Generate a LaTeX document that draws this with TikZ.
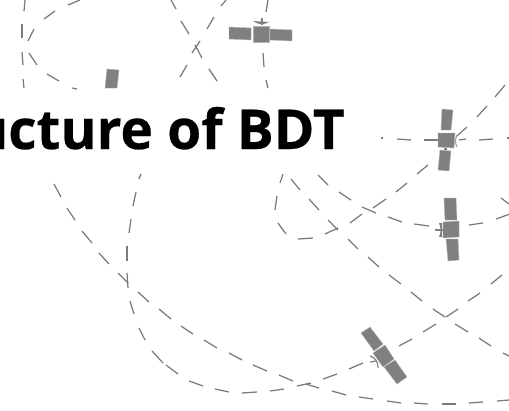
\documentclass[tikz,border=0pt]{standalone}
\usepackage{fontspec}
\setmainfont[BoldFeatures={FakeBold=0.4}]{Open Sans}
\definecolor{satgray}{HTML}{808080}
\definecolor{orbitgray}{HTML}{7A7A7A}
\tikzset{
  orbitdash/.style={draw=orbitgray,line width=1.25pt,line cap=butt},
  satpart/.style={fill=satgray,draw=satgray!60,line width=0.4pt},
  satline/.style={draw=satgray,line width=1.2pt},
  titletext/.style={font=\fontsize{55}{60}\selectfont\bfseries,text=black,inner sep=0pt,anchor=base east}
}
\begin{document}
\begin{tikzpicture}[x=1pt,y=-1pt]
\useasboundingbox (0,0) rectangle (509,410);
\clip (0,0) rectangle (509,410);
% orbit dashes
\foreach \a/\b/\c/\d in {
 80/0/68/5, 55/11/44/19, 34/29/28/41, 29/53/37/65, 47/74/59/81, 72/88/77/89,
 25/0/24/11, 22/24/22/38, 22/52/23/65, 23/79/24/88,
 54/184/61/197, 67/208/75/220, 82/231/92/243, 99/253/109/264, 118/273/128/283, 138/292/149/302,
 159/309/171/319, 181/326/193/334, 204/340/217/348, 229/353/242/360, 253/365/267/371,
 279/375/293/381, 306/384/319/388, 332/391/346/395, 359/397/373/399, 387/401/401/403,
 414/403/428/404, 442/404/456/404, 469/403/483/402, 497/401/509/400,
 141/174/139/179, 136/192/133/206, 131/219/129/233, 127/246/127/261, 127/273/128/288,
 130/301/134/314, 139/328/145/340, 152/351/163/363, 166/365/178/374, 189/381/203/386,
 215/389/229/392, 242/393/257/392, 270/391/284/389, 297/386/311/383, 323/379/337/374,
 349/369/363/363, 399/346/412/339, 423/332/436/324, 446/317/458/309, 468/301/480/293,
 491/284/502/275,
 171/0/176/9, 181/21/189/34, 195/45/202/58, 209/69/217/81,
 226/0/221/6, 214/17/207/29, 200/41/192/53, 187/65/180/77,
 268/0/266/12, 263/53/264/67, 266/80/268/88,
 381/138/383/138, 397/139/411/140, 424/140/438/140, 459/140/466/139, 479/140/493/139, 507/138/509/138,
 505/85/495/97, 487/106/477/117, 467/127/457/136,
 428/165/417/174, 407/183/396/192, 386/199/373/208, 362/214/350/223, 338/228/325/234,
 313/238/298/239, 286/234/278/223, 275/210/277/196, 280/183/283/174,
 291/179/300/190, 309/199/319/210, 328/220/338/230, 348/239/358/249, 368/257/379/267,
 389/275/401/284, 411/292/422/301, 433/309/445/317, 455/324/468/332, 479/338/491/346, 503/353/509/356,
 318/175/328/185, 339/192/351/200, 362/207/376/213, 388/217/402/222, 414/224/429/226,
 469/225/483/223, 496/219/510/214, 501/198/509/204}
 {\draw[orbitdash] (\a,\b) -- (\c,\d);}
% satellite, top
\fill[satpart] (229,27) -- (251,28) -- (251,40) -- (229,39) -- cycle;
\fill[satpart] (253,26) -- (269,26) -- (269,42) -- (253,42) -- cycle;
\fill[satpart] (270,29) -- (292,30) -- (292,41) -- (270,40) -- cycle;
\fill[satgray] (253,21) .. controls (258,25) and (264,25) .. (269,22) -- cycle;
\draw[satline] (262,18) -- (262,25);
% satellite, cut by the title
\fill[satpart] (107,69) -- (119,70) -- (117,88) -- (105,88) -- cycle;
% satellite, right upper
\fill[satpart] (442,109) -- (453,110) -- (451,130) -- (441,130) -- cycle;
\fill[satpart] (438,133) -- (455,133) -- (454,148) -- (438,147) -- cycle;
\fill[satpart] (440,150) -- (451,151) -- (449,171) -- (438,170) -- cycle;
\draw[satline,draw=satgray!70] (457,135) .. controls (455,140) and (455,143) .. (457,147);
\fill[satgray] (444,148) rectangle (447,150);
% satellite, right lower
\fill[satpart] (444,198) -- (456,198) -- (457,220) -- (445,220) -- cycle;
\fill[satpart] (443,222) -- (459,221) -- (459,237) -- (443,238) -- cycle;
\fill[satpart] (446,239) -- (458,239) -- (459,260) -- (448,261) -- cycle;
\fill[satgray] (439,223) .. controls (441,228) and (441,233) .. (439,237) -- (442,237) -- (442,223) -- cycle;
\draw[satline] (435,230) -- (443,230);
% satellite, bottom
\fill[satpart] (370,327) -- (383,344) -- (374,351) -- (361,333) -- cycle;
\fill[satpart] (385,345) -- (394,359) -- (383,367) -- (373,353) -- cycle;
\fill[satpart] (395,360) -- (407,377) -- (397,384) -- (384,367) -- cycle;
\draw[satline] (370,356) .. controls (376,358) and (378,362) .. (378,368);
\draw[satline] (370,362) -- (376,361);
% title
\node[titletext] (title) at (345,149) {ucture of BDT};
\end{tikzpicture}
\end{document}
